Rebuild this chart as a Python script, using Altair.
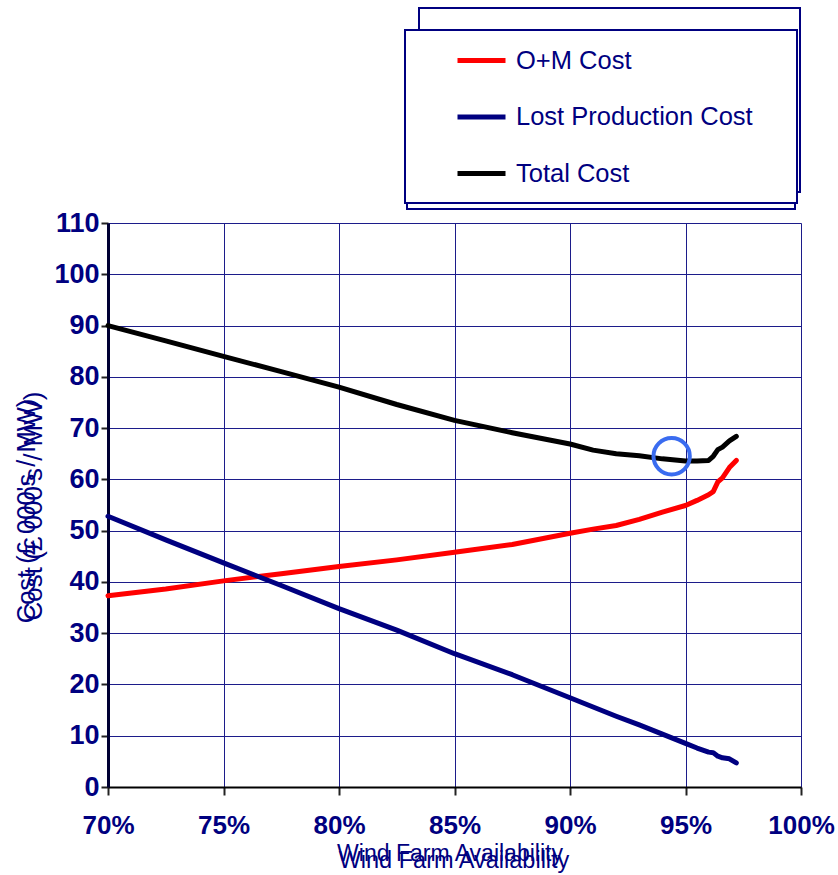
import altair as alt
import pandas as pd

# Wind farm availability (%) and the three cost curves (£ 000's / MW)
availability = [70, 72.5, 75, 77.5, 80, 82.5, 85, 87.5, 90, 91, 92, 93, 94,
                95, 95.5, 96, 96.2, 96.4, 96.6, 96.9, 97.2]
om_cost = [37.3, 38.6, 40.2, 41.6, 43.0, 44.3, 45.8, 47.3, 49.5, 50.3, 51.0,
           52.2, 53.6, 54.9, 55.9, 57.0, 57.6, 59.5, 60.3, 62.3, 63.7]
lost_cost = [52.8, 48.2, 43.7, 39.3, 34.8, 30.6, 26.0, 21.9, 17.4, 15.6, 13.8,
             12.1, 10.3, 8.5, 7.6, 6.8, 6.7, 6.0, 5.7, 5.5, 4.7]
total_cost = [90.0, 87.0, 84.0, 81.0, 78.0, 74.6, 71.5, 69.1, 66.9, 65.7, 65.0,
              64.6, 64.0, 63.6, 63.6, 63.7, 64.5, 65.8, 66.3, 67.5, 68.4]

series_names = ["O+M Cost", "Lost Production Cost", "Total Cost"]
series_colors = ["#ff0000", "#000080", "#000000"]

# Minimum of the total cost curve, ringed on the chart
optimum_availability = [94.4]
optimum_cost = [64.5]

x_ticks = [70, 75, 80, 85, 90, 95, 100]
y_ticks = [0, 10, 20, 30, 40, 50, 60, 70, 80, 90, 100, 110]
x_title = ["Wind Farm Availability"]
y_title = ["Cost (£ 000's / MW)"]

NAVY = "#000080"
FONT = "Liberation Sans"

rows = []
for name, values in zip(series_names, [om_cost, lost_cost, total_cost]):
    for order, (a, v) in enumerate(zip(availability, values)):
        rows.append({"series": name, "availability": a, "cost": v, "order": order})
df = pd.DataFrame(rows)

x_scale = alt.Scale(domain=[70, 100], nice=False, zero=False)
y_scale = alt.Scale(domain=[0, 110], nice=False)

x_axis = alt.Axis(values=x_ticks, labelExpr="datum.value + '%'", title=None,
                  labelFont=FONT, labelFontSize=26, labelFontWeight="bold",
                  labelColor=NAVY, labelFlush=False, labelOverlap=False,
                  tickSize=8, tickWidth=2, tickColor="#222222",
                  labelPadding=17, domainColor="#000000", domainWidth=2,
                  gridColor="#1c1c8a", gridWidth=1, grid=True)
y_axis = alt.Axis(values=y_ticks, title=None,
                  labelFont=FONT, labelFontSize=27, labelFontWeight="bold",
                  labelColor=NAVY, labelFlush=False, labelOverlap=False,
                  tickSize=7, tickWidth=2, tickColor="#222222",
                  labelPadding=2, domainColor="#000033", domainWidth=3,
                  gridColor="#1c1c8a", gridWidth=1, grid=True)

# Legend frame: a back panel, an offset shadow and the front panel
frame_df = pd.DataFrame({
    "x": [311, 299, 297], "x2": [692, 687, 689],
    "y": [-215, -187, -193], "y2": [-31, -14, -20], "k": [0, 1, 2]})
frames = []
for i in range(3):
    r = frame_df.iloc[i]
    frames.append(
        alt.Chart(frame_df.iloc[[i]]).mark_rect(fill="white", stroke=NAVY, strokeWidth=2)
        .encode(x=alt.value(float(r.x)), x2=alt.value(float(r.x2)),
                y=alt.value(float(r.y)), y2=alt.value(float(r.y2)))
    )

lines = alt.Chart(df).mark_line(strokeWidth=5, strokeCap="round", strokeJoin="round").encode(
    x=alt.X("availability:Q", scale=x_scale, axis=x_axis),
    y=alt.Y("cost:Q", scale=y_scale, axis=y_axis),
    color=alt.Color("series:N",
                    scale=alt.Scale(domain=series_names, range=series_colors),
                    legend=alt.Legend(orient="none", legendX=347, legendY=-189,
                                      title=None, symbolType="stroke",
                                      symbolSize=2304, symbolStrokeWidth=5,
                                      labelFont=FONT, labelFontSize=25.5,
                                      labelColor=NAVY, labelOffset=8,
                                      labelLimit=0, rowPadding=16.5, padding=0)),
    order="order:Q",
)

optimum_df = pd.DataFrame({"availability": optimum_availability, "cost": optimum_cost})
ring = alt.Chart(optimum_df).mark_point(shape="circle", filled=False, size=1320,
                                        stroke="#3a6cf0", strokeWidth=4, opacity=1).encode(
    x=alt.X("availability:Q", scale=x_scale),
    y=alt.Y("cost:Q", scale=y_scale),
)

# Axis titles, each printed twice with a slight offset
title_layers = []
for dx, dy, fs in [(0, 0, 23), (4, 7, 23.5)]:
    title_layers.append(
        alt.Chart(pd.DataFrame({"t": x_title})).mark_text(
            font=FONT, fontSize=fs, color=NAVY, align="center", baseline="middle")
        .encode(x=alt.value(342 + dx), y=alt.value(631 + dy), text="t:N"))
for dx, dy, fs in [(0, 0, 25.5), (7, -5, 26)]:
    title_layers.append(
        alt.Chart(pd.DataFrame({"t": y_title})).mark_text(
            font=FONT, fontSize=fs, color=NAVY, align="center", baseline="middle", angle=270)
        .encode(x=alt.value(-81 + dx), y=alt.value(288 + dy), text="t:N"))

chart = alt.layer(*frames, lines, ring, *title_layers).properties(
    width=693, height=564,
    autosize=alt.AutoSizeParams(type="none"),
    padding={"left": 108, "top": 223, "right": 37, "bottom": 88},
).configure_view(stroke=NAVY, strokeWidth=2).configure(background="white")

chart.save("out.html", embed_options={"renderer": "svg", "actions": False})
